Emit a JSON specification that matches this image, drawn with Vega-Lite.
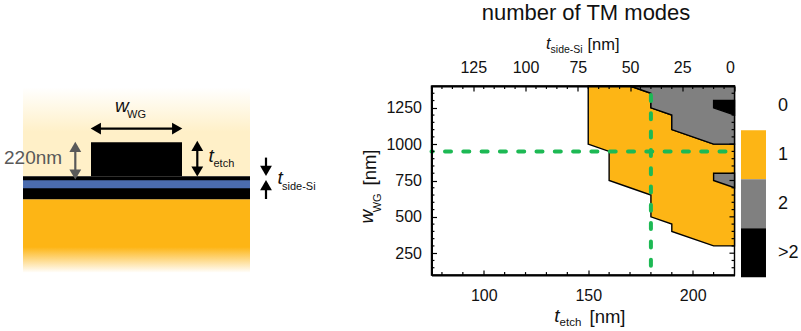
{"$schema":"https://vega.github.io/schema/vega-lite/v6.json","background":"white","padding":{"left":0,"top":2,"right":0,"bottom":0},"bounds":"flush","spacing":91.5,
"resolve":{"scale":{"color":"independent","shape":"independent"},"legend":{"color":"independent","shape":"independent"}},
"config":{"view":{"stroke":null},"font":"Liberation Sans","text":{"font":"Liberation Sans"},"axis":{"grid":false,"labelFont":"Liberation Sans","titleFont":"Liberation Sans","labelColor":"#111","titleColor":"#111","domainColor":"black","tickColor":"black"},"title":{"font":"Liberation Sans"},"legend":{"labelFont":"Liberation Sans"}},
"datasets":{
"regions":[
{"region":"a","modes":"0","tetch":75,"low":100,"high":1400},
{"region":"a","modes":"0","tetch":220,"low":100,"high":1400},
{"region":"b","modes":"1","tetch":150,"low":1000,"high":1400},
{"region":"b","modes":"1","tetch":160,"low":950,"high":1400},
{"region":"b","modes":"1","tetch":160,"low":750,"high":1400},
{"region":"b","modes":"1","tetch":170,"low":700,"high":1400},
{"region":"b","modes":"1","tetch":180,"low":650,"high":1350},
{"region":"b","modes":"1","tetch":180,"low":500,"high":1250},
{"region":"b","modes":"1","tetch":190,"low":450,"high":1200},
{"region":"b","modes":"1","tetch":190,"low":400,"high":1100},
{"region":"b","modes":"1","tetch":210,"low":300,"high":1000},
{"region":"b","modes":"1","tetch":220,"low":300,"high":1000},
{"region":"c","modes":"2","tetch":170,"low":1400,"high":1400},
{"region":"c","modes":"2","tetch":180,"low":1350,"high":1400},
{"region":"c","modes":"2","tetch":180,"low":1250,"high":1400},
{"region":"c","modes":"2","tetch":190,"low":1200,"high":1400},
{"region":"c","modes":"2","tetch":190,"low":1100,"high":1400},
{"region":"c","modes":"2","tetch":210,"low":1000,"high":1400},
{"region":"c","modes":"2","tetch":220,"low":1000,"high":1400},
{"region":"d","modes":"2","tetch":210,"low":750,"high":800},
{"region":"d","modes":"2","tetch":220,"low":700,"high":800},
{"region":"e","modes":">2","tetch":210,"low":1250,"high":1300},
{"region":"e","modes":">2","tetch":220,"low":1200,"high":1300}],
"marker":[{"tetch":180,"wwg":950}],
"xMinor":[{"v":80},{"v":90},{"v":110},{"v":120},{"v":130},{"v":140},{"v":160},{"v":170},{"v":180},{"v":190},{"v":210}],
"topMinor":[{"v":145},{"v":140},{"v":135},{"v":130},{"v":120},{"v":115},{"v":110},{"v":105},{"v":95},{"v":90},{"v":85},{"v":80},{"v":70},{"v":65},{"v":60},{"v":55},{"v":45},{"v":40},{"v":35},{"v":30},{"v":20},{"v":15},{"v":10},{"v":5}],
"yMinor":[{"v":150},{"v":200},{"v":300},{"v":350},{"v":400},{"v":450},{"v":550},{"v":600},{"v":650},{"v":700},{"v":800},{"v":850},{"v":900},{"v":950},{"v":1050},{"v":1100},{"v":1150},{"v":1200},{"v":1300},{"v":1350}],
"yMajor":[{"v":250},{"v":500},{"v":750},{"v":1000},{"v":1250}],
"blocks":[
{"part":"slab","x0":23,"x1":250,"y0":176,"y1":199},
{"part":"ridge","x0":91,"x1":182,"y0":142,"y1":176}],
"arrows":[
{"ink":"black","x0":95,"x1":178,"y0":128.3,"y1":128.3},
{"ink":"black","x0":197.3,"x1":197.3,"y0":145,"y1":172},
{"ink":"grey","x0":75.3,"x1":75.3,"y0":146,"y1":175},
{"ink":"black","x0":266,"x1":266,"y0":157.3,"y1":171},
{"ink":"black","x0":266,"x1":266,"y0":185,"y1":198.7}],
"heads":[
{"ink":"black","dir":"left","x":95.8,"y":128.3},
{"ink":"black","dir":"right","x":177.2,"y":128.3},
{"ink":"black","dir":"up","x":197.3,"y":145.5},
{"ink":"black","dir":"down","x":197.3,"y":171.2},
{"ink":"grey","dir":"up","x":75.3,"y":146.5},
{"ink":"grey","dir":"down","x":75.3,"y":174.2},
{"ink":"black","dir":"down","x":266,"y":170.5},
{"ink":"black","dir":"up","x":266,"y":184.8}]
},
"hconcat":[
{"width":340,"height":189,"layer":[
{"data":{"values":[{"x0":23,"x1":250,"y0":87,"y1":176}]},"mark":{"type":"rect","color":{"gradient":"linear","x1":0,"y1":0,"x2":0,"y2":1,"stops":[{"offset":0,"color":"#ffffff"},{"offset":0.5,"color":"#FFF0C8"},{"offset":1,"color":"#FFF0C8"}]}},
 "encoding":{"x":{"field":"x0","type":"quantitative","scale":{"domain":[0,340],"nice":false,"zero":false},"axis":null},"x2":{"field":"x1"},"y":{"field":"y0","type":"quantitative","scale":{"domain":[274.7,85.7],"nice":false,"zero":false},"axis":null},"y2":{"field":"y1"}}},
{"data":{"values":[{"x0":23,"x1":250,"y0":199,"y1":272.5}]},"mark":{"type":"rect","color":{"gradient":"linear","x1":0,"y1":0,"x2":0,"y2":1,"stops":[{"offset":0,"color":"#FDB515"},{"offset":0.65,"color":"#FDB515"},{"offset":1,"color":"#ffffff"}]}},
 "encoding":{"x":{"field":"x0","type":"quantitative"},"x2":{"field":"x1"},"y":{"field":"y0","type":"quantitative"},"y2":{"field":"y1"}}},
{"data":{"name":"blocks"},"mark":{"type":"rect","color":"black"},
 "encoding":{"x":{"field":"x0","type":"quantitative"},"x2":{"field":"x1"},"y":{"field":"y0","type":"quantitative"},"y2":{"field":"y1"}}},
{"data":{"values":[{"x0":23,"x1":250,"y0":180,"y1":188}]},"mark":{"type":"rect","color":"#4B6CAF"},
 "encoding":{"x":{"field":"x0","type":"quantitative"},"x2":{"field":"x1"},"y":{"field":"y0","type":"quantitative"},"y2":{"field":"y1"}}},
{"data":{"name":"arrows"},"mark":{"type":"rule","strokeWidth":2.2},
 "encoding":{"x":{"field":"x0","type":"quantitative"},"x2":{"field":"x1"},"y":{"field":"y0","type":"quantitative"},"y2":{"field":"y1"},"color":{"field":"ink","type":"nominal","scale":{"domain":["black","grey"],"range":["black","#595959"]},"legend":null}}},
{"data":{"name":"heads"},"mark":{"type":"point","filled":true,"opacity":1,"size":140},
 "encoding":{"x":{"field":"x","type":"quantitative"},"y":{"field":"y","type":"quantitative"},"color":{"field":"ink","type":"nominal","scale":{"domain":["black","grey"],"range":["black","#595959"]},"legend":null},"shape":{"field":"dir","type":"nominal","scale":{"domain":["left","right","up","down"],"range":["triangle-left","triangle-right","triangle-up","triangle-down"]},"legend":null}}},
{"data":{"values":[{"label":"220nm","x":4,"y":164}]},"mark":{"type":"text","align":"left","baseline":"alphabetic","fontSize":19,"color":"#595959"},
 "encoding":{"x":{"field":"x","type":"quantitative"},"y":{"field":"y","type":"quantitative"},"text":{"field":"label"}}},
{"data":{"values":[{"label":"w","x":115,"y":111.7},{"label":"t","x":208.5,"y":161.7},{"label":"t","x":277.5,"y":184}]},"mark":{"type":"text","align":"left","baseline":"alphabetic","fontSize":19,"fontStyle":"italic","color":"#111"},
 "encoding":{"x":{"field":"x","type":"quantitative"},"y":{"field":"y","type":"quantitative"},"text":{"field":"label"}}},
{"data":{"values":[{"label":"WG","x":127,"y":118},{"label":"etch","x":213.5,"y":166.7},{"label":"side-Si","x":282,"y":189.3}]},"mark":{"type":"text","align":"left","baseline":"alphabetic","fontSize":11,"color":"#111"},
 "encoding":{"x":{"field":"x","type":"quantitative"},"y":{"field":"y","type":"quantitative"},"text":{"field":"label"}}}
]},
{"width":303,"height":189,
 "title":{"text":"number of TM modes","fontSize":22,"fontWeight":"normal","color":"#111","anchor":"middle","offset":11,"dx":3},
 "resolve":{"scale":{"x":"independent"}},
 "layer":[
 {"layer":[
  {"data":{"name":"regions"},"mark":{"type":"area","stroke":"black","strokeWidth":1.4,"opacity":1},
   "encoding":{
    "x":{"field":"tetch","type":"quantitative","scale":{"domain":[75,220],"nice":false,"zero":false},
      "axis":{"orient":"bottom","values":[100,150,200],"tickSize":-5,"tickWidth":1.2,"domainWidth":2,"labelFontSize":16,"labelPadding":17,"zindex":1,"title":"[nm]","titleFontSize":18.5,"titleFontWeight":"normal","titleX":157.5,"titleY":47,"titleAlign":"left","titleBaseline":"alphabetic"}},
    "y":{"field":"low","type":"quantitative","scale":{"domain":[100,1400],"nice":false,"zero":false},
      "axis":{"values":[250,500,750,1000,1250],"format":"d","tickSize":-5,"tickWidth":1.2,"domainWidth":2,"labelFontSize":16,"labelPadding":15,"zindex":1,"title":"[nm]","titleFontSize":18.5,"titleFontWeight":"normal","titleAngle":-90,"titleX":-56.5,"titleY":81,"titleAlign":"center","titleBaseline":"alphabetic"}},
    "y2":{"field":"high"},
    "detail":{"field":"region"},
    "color":{"field":"modes","type":"nominal","scale":{"domain":["0","1","2",">2"],"range":["white","#FDB515","#808080","black"]},
      "legend":{"orient":"none","legendX":309.5,"legendY":-4.7,"title":null,"symbolType":"M-1,-1H0.02V1H-1Z","symbolSize":2401,"symbolStrokeWidth":0,"symbolStrokeColor":"transparent","rowPadding":0,"labelFontSize":18,"labelColor":"#111","labelOffset":-12}}}},
  {"data":{"name":"marker"},"mark":{"type":"rule","color":"#1DB954","strokeWidth":4,"strokeDash":[6,12.3],"strokeDashOffset":-9,"strokeCap":"round"},"encoding":{"x":{"field":"tetch","type":"quantitative"}}},
  {"data":{"name":"marker"},"mark":{"type":"rule","color":"#1DB954","strokeWidth":4,"strokeDash":[6,12.3],"strokeDashOffset":-9,"strokeCap":"round"},"encoding":{"y":{"field":"wwg","type":"quantitative"}}},
  {"data":{"name":"xMinor"},"mark":{"type":"rule","color":"black","strokeWidth":1.2},"encoding":{"x":{"field":"v","type":"quantitative"},"y":{"datum":100},"y2":{"datum":120}}},
  {"data":{"name":"yMinor"},"mark":{"type":"rule","color":"black","strokeWidth":1.2},"encoding":{"y":{"field":"v","type":"quantitative"},"x":{"datum":75},"x2":{"datum":76.4}}},
  {"data":{"name":"yMinor"},"mark":{"type":"rule","color":"black","strokeWidth":1.2},"encoding":{"y":{"field":"v","type":"quantitative"},"x":{"datum":220},"x2":{"datum":218.6}}},
  {"data":{"name":"yMajor"},"mark":{"type":"rule","color":"black","strokeWidth":1.2},"encoding":{"y":{"field":"v","type":"quantitative"},"x":{"datum":220},"x2":{"datum":217.6}}},
  {"data":{"values":[{"label":"t","x":133.7,"y":-223}]},"mark":{"type":"text","align":"left","baseline":"alphabetic","fontSize":19,"fontStyle":"italic","color":"#111"},"encoding":{"x":{"field":"x","type":"quantitative"},"y":{"field":"y","type":"quantitative"},"text":{"field":"label"}}},
  {"data":{"values":[{"label":"etch","x":136.3,"y":-253}]},"mark":{"type":"text","align":"left","baseline":"alphabetic","fontSize":11.5,"color":"#111"},"encoding":{"x":{"field":"x","type":"quantitative"},"y":{"field":"y","type":"quantitative"},"text":{"field":"label"}}},
  {"data":{"values":[{"label":"t","x":129.8,"y":1652}]},"mark":{"type":"text","align":"left","baseline":"alphabetic","fontSize":16.5,"fontStyle":"italic","color":"#111"},"encoding":{"x":{"field":"x","type":"quantitative"},"y":{"field":"y","type":"quantitative"},"text":{"field":"label"}}},
  {"data":{"values":[{"label":"side-Si","x":132,"y":1625}]},"mark":{"type":"text","align":"left","baseline":"alphabetic","fontSize":10.5,"color":"#111"},"encoding":{"x":{"field":"x","type":"quantitative"},"y":{"field":"y","type":"quantitative"},"text":{"field":"label"}}},
  {"data":{"values":[{"label":"w","x":47.1,"y":454}]},"mark":{"type":"text","align":"left","baseline":"alphabetic","angle":270,"fontSize":19,"fontStyle":"italic","color":"#111"},"encoding":{"x":{"field":"x","type":"quantitative"},"y":{"field":"y","type":"quantitative"},"text":{"field":"label"}}},
  {"data":{"values":[{"label":"WG","x":50.7,"y":531}]},"mark":{"type":"text","align":"left","baseline":"alphabetic","angle":270,"fontSize":11,"color":"#111"},"encoding":{"x":{"field":"x","type":"quantitative"},"y":{"field":"y","type":"quantitative"},"text":{"field":"label"}}}
 ]},
 {"data":{"name":"topMinor"},"mark":{"type":"rule","color":"black","strokeWidth":1.2},
  "encoding":{
   "x":{"field":"v","type":"quantitative","scale":{"domain":[145,0],"nice":false,"zero":false},
     "axis":{"orient":"top","values":[125,100,75,50,25,0],"tickSize":-5,"tickWidth":1.2,"domainWidth":2,"labelFontSize":16,"labelPadding":16,"zindex":1,"title":"[nm]","titleFontSize":16.5,"titleFontWeight":"normal","titleX":155.5,"titleY":-36.7,"titleAlign":"left","titleBaseline":"alphabetic"}},
   "y":{"datum":1400},"y2":{"datum":1380}}}
 ]}
]}
